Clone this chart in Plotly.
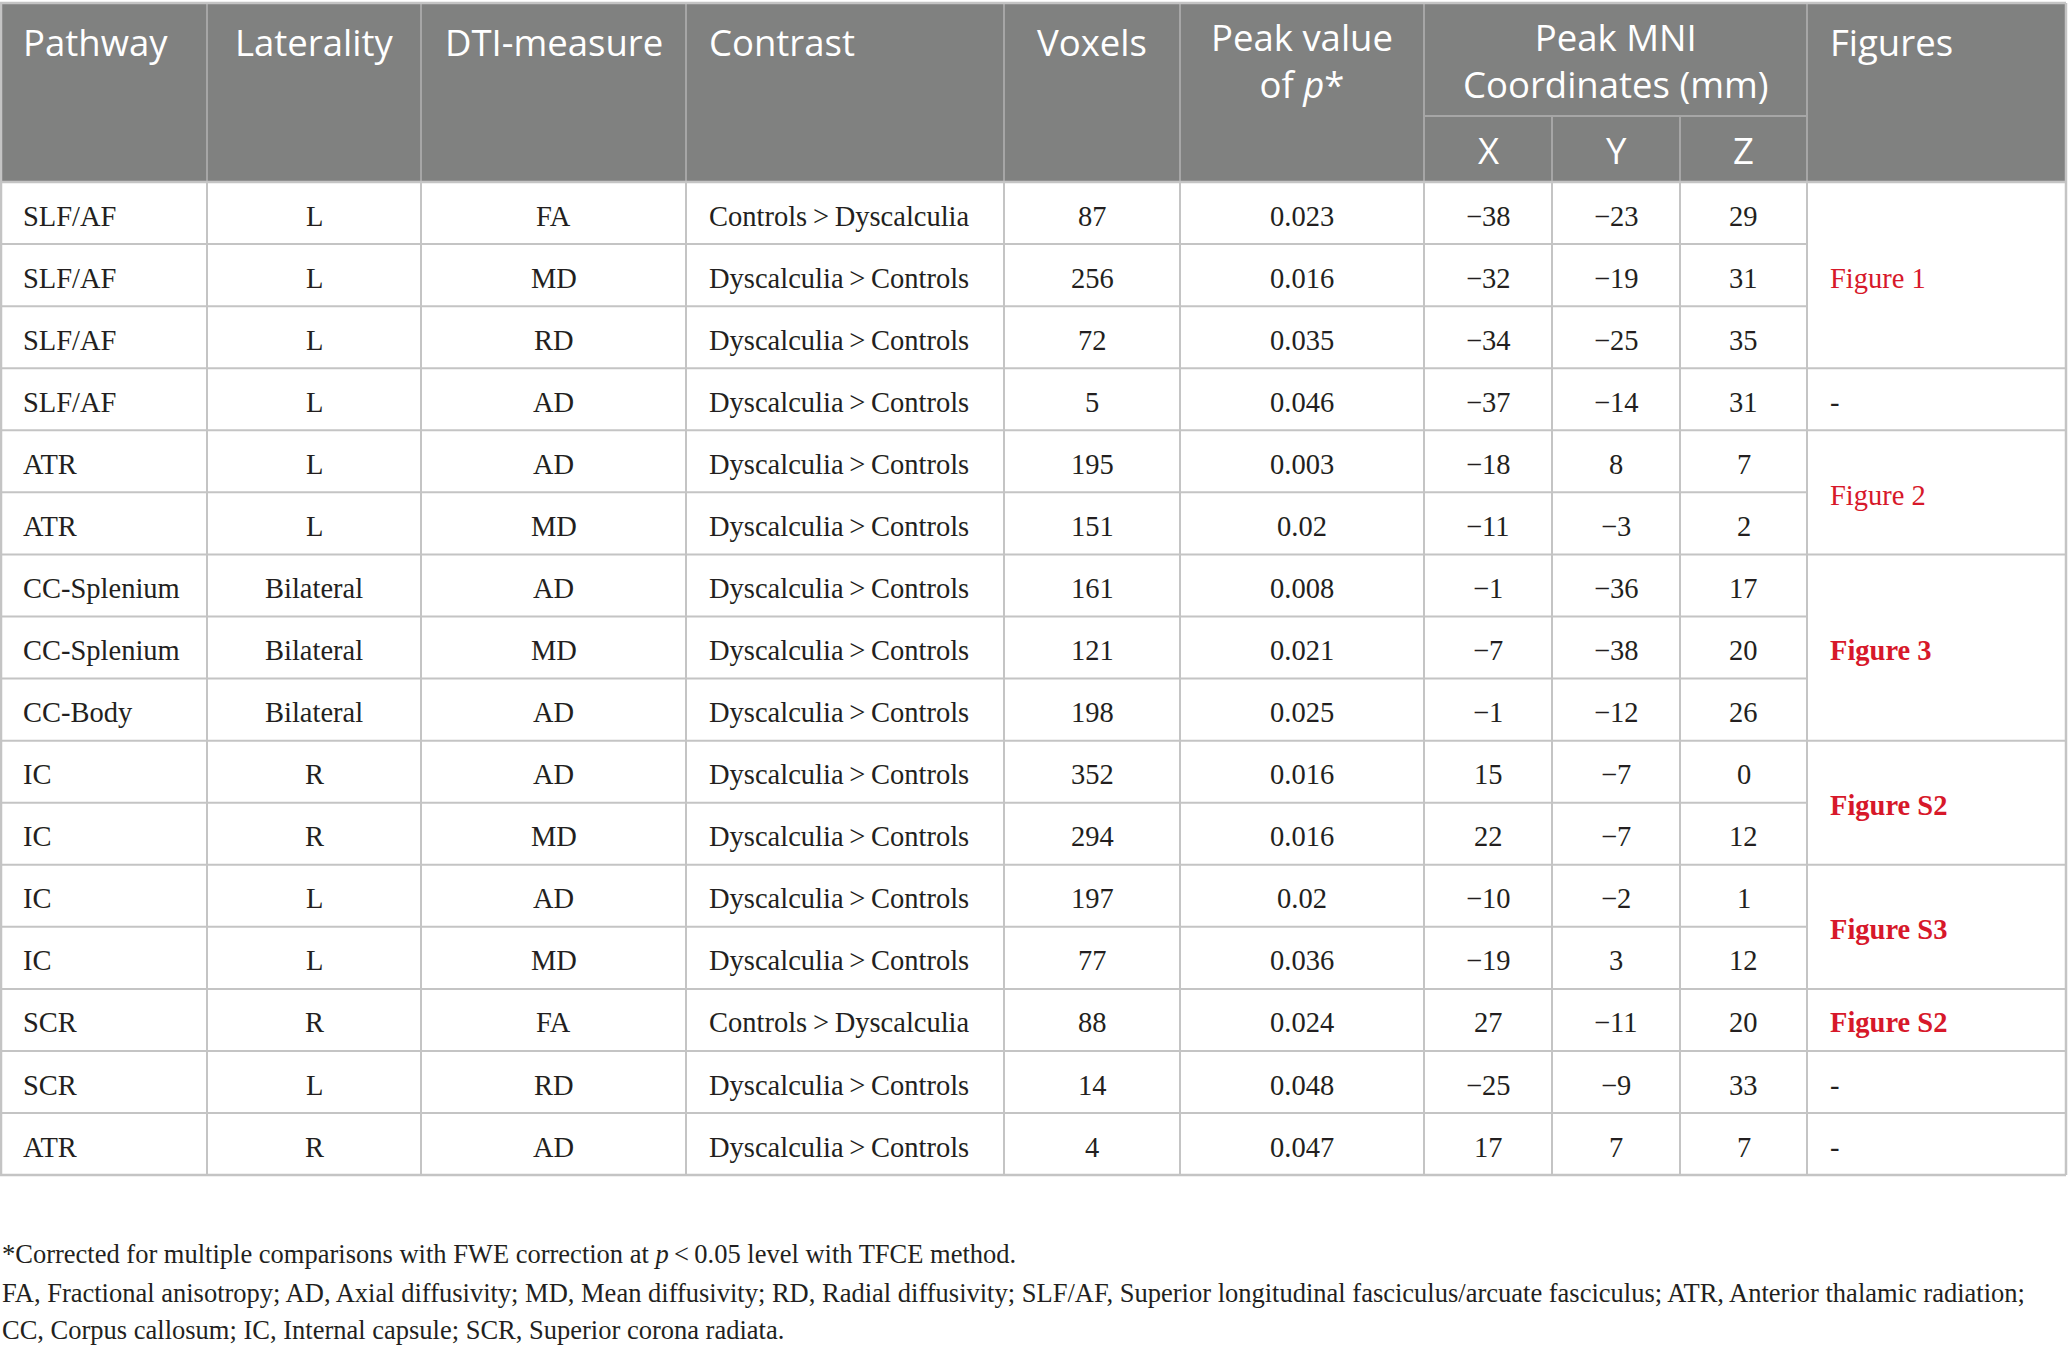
import plotly.graph_objects as go

# ---------------- data ----------------
pathway = ["SLF/AF", "SLF/AF", "SLF/AF", "SLF/AF", "ATR", "ATR", "CC-Splenium", "CC-Splenium",
           "CC-Body", "IC", "IC", "IC", "IC", "SCR", "SCR", "ATR"]
laterality = ["L", "L", "L", "L", "L", "L", "Bilateral", "Bilateral", "Bilateral",
              "R", "R", "L", "L", "R", "L", "R"]
dti_measure = ["FA", "MD", "RD", "AD", "AD", "MD", "AD", "MD", "AD", "AD", "MD", "AD", "MD",
               "FA", "RD", "AD"]
contrast = ["Controls\u2009>\u2009Dyscalculia"] + ["Dyscalculia\u2009>\u2009Controls"] * 12 + \
           ["Controls\u2009>\u2009Dyscalculia"] + ["Dyscalculia\u2009>\u2009Controls"] * 2
voxels = [87, 256, 72, 5, 195, 151, 161, 121, 198, 352, 294, 197, 77, 88, 14, 4]
peak_p = ["0.023", "0.016", "0.035", "0.046", "0.003", "0.02", "0.008", "0.021", "0.025",
          "0.016", "0.016", "0.02", "0.036", "0.024", "0.048", "0.047"]
mni_x = [-38, -32, -34, -37, -18, -11, -1, -7, -1, 15, 22, -10, -19, 27, -25, 17]
mni_y = [-23, -19, -25, -14, 8, -3, -36, -38, -12, -7, -7, -2, 3, -11, -9, 7]
mni_z = [29, 31, 35, 31, 7, 2, 17, 20, 26, 0, 12, 1, 12, 20, 33, 7]
# figure column: (label, first row, number of rows spanned, bold)
figures = [("Figure 1", 0, 3, False), ("-", 3, 1, False), ("Figure 2", 4, 2, False),
           ("Figure 3", 6, 3, True), ("Figure S2", 9, 2, True), ("Figure S3", 11, 2, True),
           ("Figure S2", 13, 1, True), ("-", 14, 1, False), ("-", 15, 1, False)]
header_single = ["Pathway", "Laterality", "DTI-measure", "Contrast", "Voxels", "Figures"]
header_double = ["Peak value<br>of <i>p</i>*", "Peak MNI<br>Coordinates (mm)"]
header_sub = ["X", "Y", "Z"]
footnotes = [
    "*Corrected for multiple comparisons with FWE correction at <i>p</i>\u2009&lt;\u20090.05 level with TFCE method.",
    "FA, Fractional anisotropy; AD, Axial diffusivity; MD, Mean diffusivity; RD, Radial diffusivity; SLF/AF, Superior longitudinal fasciculus/arcuate fasciculus; ATR, Anterior thalamic radiation;",
    "CC, Corpus callosum; IC, Internal capsule; SCR, Superior corona radiata.",
]

# ---------------- layout geometry ----------------
W, H = 2068, 1352
edges = [0, 207, 421, 686, 1004, 1180, 1424, 1552, 1680, 1807, 2066]
top = 3
sub_line = 116
head_bot = 182
n_rows = len(pathway)
row_h = 62.07
bottom = head_bot + n_rows * row_h
pad = 21

HEAD_BG = "#808180"
GRID = "#c4c4c4"
HEAD_GRID = "#a6a6a6"
RED = "#d7182a"
TXT = "#231f20"
SANS = "Open Sans"
SERIF = "Liberation Serif"
BODY_SIZE = 28.5
HEAD_SIZE = 36.5
FOOT_SIZE = 26.5


def fmt(v):
    return ("\u2212" + str(-v)) if v < 0 else str(v)


def yc(r):
    return head_bot + (r + 0.5) * row_h + 3


fig = go.Figure(go.Scatter(x=[], y=[], hoverinfo="skip", showlegend=False))
shapes = []
ann = []

# header background
shapes.append(dict(type="rect", x0=edges[0], x1=edges[-1], y0=top, y1=head_bot,
                   fillcolor=HEAD_BG, line=dict(width=0), layer="below"))

# header grid
for i, x in enumerate(edges[1:-1], start=1):
    y0 = sub_line if i in (7, 8) else top
    shapes.append(dict(type="line", x0=x, x1=x, y0=y0, y1=head_bot,
                       line=dict(color=HEAD_GRID, width=2)))
shapes.append(dict(type="line", x0=edges[6], x1=edges[9], y0=sub_line, y1=sub_line,
                   line=dict(color=HEAD_GRID, width=2)))

# outer border
for y in [top, head_bot, bottom]:
    shapes.append(dict(type="line", x0=0, x1=edges[-1], y0=y, y1=y,
                       line=dict(color=GRID, width=2.5)))
for x in [edges[0] + 1, edges[-1]]:
    shapes.append(dict(type="line", x0=x, x1=x, y0=top, y1=bottom,
                       line=dict(color=GRID, width=2.5)))

# body vertical lines
for x in edges[1:-1]:
    shapes.append(dict(type="line", x0=x, x1=x, y0=head_bot, y1=bottom,
                       line=dict(color=GRID, width=2)))
# body horizontal lines (data columns)
for r in range(1, n_rows):
    y = head_bot + r * row_h
    shapes.append(dict(type="line", x0=edges[0], x1=edges[9], y0=y, y1=y,
                       line=dict(color=GRID, width=2)))
# figure column group separators
for (lab, r0, span, bold) in figures[1:]:
    y = head_bot + r0 * row_h
    shapes.append(dict(type="line", x0=edges[9], x1=edges[10], y0=y, y1=y,
                       line=dict(color=GRID, width=2)))

# header text
hfont = dict(family=SANS, size=HEAD_SIZE, color="white")
single_pos = [(edges[0] + pad, "left"), ((edges[1] + edges[2]) / 2, "center"),
              ((edges[2] + edges[3]) / 2, "center"), (edges[3] + pad, "left"),
              ((edges[4] + edges[5]) / 2, "center"), (edges[9] + pad, "left")]
for txt, (x, anc) in zip(header_single, single_pos):
    ann.append(dict(x=x, y=42, text=txt, xanchor=anc, yanchor="middle", font=hfont))
double_pos = [(edges[5] + edges[6]) / 2, (edges[6] + edges[9]) / 2]
for txt, x in zip(header_double, double_pos):
    ann.append(dict(x=x, y=60, text=txt, xanchor="center", yanchor="middle", font=hfont,
                    align="center"))
for j, t in enumerate(header_sub):
    ann.append(dict(x=(edges[6 + j] + edges[7 + j]) / 2, y=150, text=t, xanchor="center",
                    yanchor="middle", font=hfont))

# body text
bfont = dict(family=SERIF, size=BODY_SIZE, color=TXT)
columns = [pathway, laterality, dti_measure, contrast, [str(v) for v in voxels], peak_p,
           [fmt(v) for v in mni_x], [fmt(v) for v in mni_y], [fmt(v) for v in mni_z]]
for c, vals in enumerate(columns):
    if c in (0, 3):
        x, anc = edges[c] + pad, "left"
    else:
        x, anc = (edges[c] + edges[c + 1]) / 2, "center"
    for r, v in enumerate(vals):
        ann.append(dict(x=x, y=yc(r), text=v, xanchor=anc, yanchor="middle", font=bfont))

for (lab, r0, span, bold) in figures:
    yy = head_bot + (r0 + span / 2) * row_h + 3
    if lab == "-":
        ann.append(dict(x=edges[9] + pad, y=yy, text=lab, xanchor="left", yanchor="middle",
                        font=bfont))
    else:
        ann.append(dict(x=edges[9] + pad, y=yy, text=("<b>%s</b>" % lab) if bold else lab,
                        xanchor="left", yanchor="middle",
                        font=dict(family=SERIF, size=BODY_SIZE, color=RED)))

# footnotes
foot_y = [1254, 1293, 1330]
for t, y in zip(footnotes, foot_y):
    ann.append(dict(x=0, y=y, text=t, xanchor="left", yanchor="middle",
                    font=dict(family=SERIF, size=FOOT_SIZE, color=TXT)))

for a in ann:
    a.update(xref="x", yref="y", showarrow=False)

fig.update_layout(
    width=W, height=H, margin=dict(l=0, r=0, t=0, b=0),
    paper_bgcolor="white", plot_bgcolor="white",
    xaxis=dict(range=[0, W], visible=False, fixedrange=True),
    yaxis=dict(range=[H, 0], visible=False, fixedrange=True),
    shapes=shapes, annotations=ann, showlegend=False,
)
fig.write_html("out.html", config={"displayModeBar": False},
               post_script="document.body.style.margin='0';document.body.style.overflow='hidden';")
